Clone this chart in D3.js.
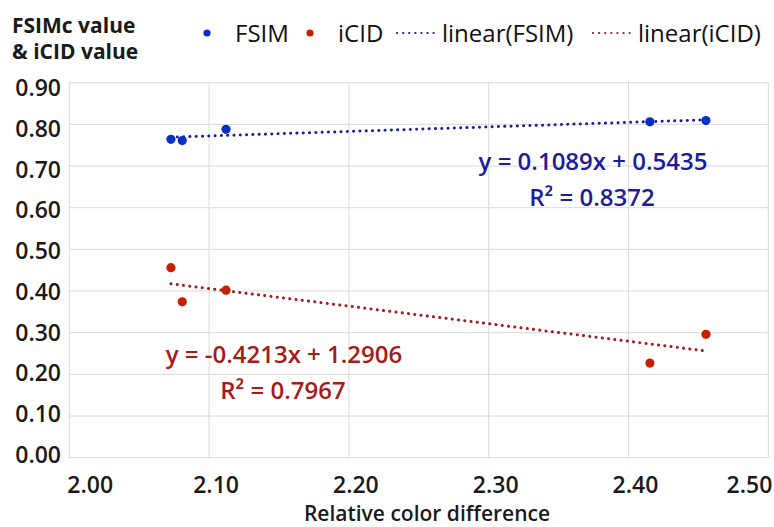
<!DOCTYPE html>
<html>
<head>
<meta charset="utf-8">
<script src="https://cdn.jsdelivr.net/npm/d3@7"></script>
<style>
  body { margin: 0; background: #fff; }
  svg { display: block; font-family: "Open Sans", "Noto Sans", sans-serif; }
  .grid line { stroke: #d9d9d9; stroke-width: 1; }
  .tick-label { font-size: 23px; font-weight: 600; fill: #1a1a1a; }
</style>
</head>
<body>
<svg width="774" height="527"></svg>
<script>
// values
const colorDiff = [2.0727, 2.0808, 2.1121, 2.4153, 2.4554]
const fsimValues = [0.764, 0.761, 0.788, 0.806, 0.809]
const icidValues = [0.456, 0.374, 0.402, 0.227, 0.296]

// trendline coefficients shown on the chart: [slope, intercept, r2]
const fsimFit = [0.1089, 0.5435, 0.8372]
const icidFit = [-0.4213, 1.2906, 0.7967]

const xTicks = [2.0, 2.1, 2.2, 2.3, 2.4, 2.5]
const yTicks = [0, 0.1, 0.2, 0.3, 0.4, 0.5, 0.6, 0.7, 0.8, 0.9]

const seriesNames = ['FSIM', 'iCID']
const dotColors = ['#0a2fc4', '#c42000']
const lineColors = ['#1c1c9c', '#a31b1b']

const svg = d3.select('svg')

const x = d3.scaleLinear().domain([2.0, 2.5]).range([69.3, 768.3])
const y = d3.scaleLinear().domain([0, 0.9]).range([457.7, 82.7])
// the labels in the picture sit a bit off the grid, follow them
const yLabel = d3.scaleLinear().domain([0, 0.9]).range([455, 88])

// grid
const grid = svg.append('g').classed('grid', true)
grid.selectAll('.h')
    .data(yTicks)
    .enter()
    .append('line')
    .attr('x1', x(2.0)).attr('x2', x(2.5))
    .attr('y1', d => y(d)).attr('y2', d => y(d))
grid.selectAll('.v')
    .data(xTicks)
    .enter()
    .append('line')
    .attr('x1', d => x(d)).attr('x2', d => x(d))
    .attr('y1', y(0)).attr('y2', y(0.9))

// y tick labels
svg.append('g').selectAll('text')
    .data(yTicks)
    .enter()
    .append('text')
    .classed('tick-label', true)
    .attr('x', 61)
    .attr('y', d => yLabel(d))
    .attr('dy', '0.35em')
    .attr('text-anchor', 'end')
    .text(d => d.toFixed(2))

// x tick labels
svg.append('g').selectAll('text')
    .data(xTicks)
    .enter()
    .append('text')
    .classed('tick-label', true)
    .attr('x', (d, i) => i === 0 ? x(d) - 2 : i === xTicks.length - 1 ? x(d) + 4 : x(d) + 7)
    .attr('y', 485)
    .attr('dy', '0.35em')
    .attr('text-anchor', (d, i) => i === 0 ? 'start' : i === xTicks.length - 1 ? 'end' : 'middle')
    .text(d => d.toFixed(2))

// axis titles
svg.append('text')
    .attr('x', 427)
    .attr('y', 514)
    .attr('dy', '0.35em')
    .attr('text-anchor', 'middle')
    .attr('font-size', 21)
    .attr('font-weight', 600)
    .attr('fill', '#1a1a1a')
    .text('Relative color difference')

const yTitle = svg.append('text')
    .attr('font-size', 21)
    .attr('font-weight', 700)
    .attr('fill', '#1a1a1a')
yTitle.append('tspan').attr('x', 12).attr('y', 33).text('FSIMc value')
yTitle.append('tspan').attr('x', 12).attr('y', 59).text('& iCID value')

// trendlines
const fits = [fsimFit, icidFit]
const xExtent = d3.extent(colorDiff)
const line = d3.line().x(d => x(d[0])).y(d => y(d[1]))
fits.forEach((f, i) => {
    svg.append('path')
       .datum(xExtent.map(v => [v, f[0] * v + f[1]]))
       .attr('d', line)
       .attr('fill', 'none')
       .attr('stroke', lineColors[i])
       .attr('stroke-width', 3)
       .attr('stroke-linecap', 'round')
       .attr('stroke-dasharray', '0.1 6.2')
})

// points
const allValues = [fsimValues, icidValues]
allValues.forEach((vals, i) => {
    svg.append('g').selectAll('circle')
       .data(vals)
       .enter()
       .append('circle')
       .attr('cx', (d, j) => x(colorDiff[j]))
       .attr('cy', d => y(d))
       .attr('r', 4.6)
       .attr('fill', dotColors[i])
})

// equations
const eqPos = [[593, 162], [284, 355]]
fits.forEach((f, i) => {
    const g = svg.append('text')
        .attr('text-anchor', 'middle')
        .attr('font-size', 24)
        .attr('font-weight', 600)
        .attr('fill', lineColors[i])
    g.append('tspan')
     .attr('x', eqPos[i][0]).attr('y', eqPos[i][1]).attr('dy', '0.35em')
     .text(`y = ${f[0].toFixed(4)}x + ${f[1].toFixed(4)}`)
    g.append('tspan')
     .attr('x', eqPos[i][0] - 1).attr('y', eqPos[i][1] + 36).attr('dy', '0.35em')
     .text(`R² = ${f[2].toFixed(4)}`)
})

// legend
const legend = svg.append('g').attr('font-size', 24).attr('fill', '#111')
const dotX = [207, 310]
seriesNames.forEach((name, i) => {
    legend.append('circle').attr('cx', dotX[i]).attr('cy', 33).attr('r', 3.6).attr('fill', dotColors[i])
    legend.append('text').attr('x', dotX[i] + 28).attr('y', 34).attr('dy', '0.35em').text(name)
})
const lineX = [397, 593]
seriesNames.forEach((name, i) => {
    legend.append('line')
          .attr('x1', lineX[i]).attr('x2', lineX[i] + 40)
          .attr('y1', 33).attr('y2', 33)
          .attr('stroke', lineColors[i])
          .attr('stroke-width', 2.2)
          .attr('stroke-linecap', 'round')
          .attr('stroke-dasharray', '0.1 6')
    legend.append('text').attr('x', lineX[i] + 45).attr('y', 34).attr('dy', '0.35em').text(`linear(${name})`)
})
</script>
</body>
</html>
